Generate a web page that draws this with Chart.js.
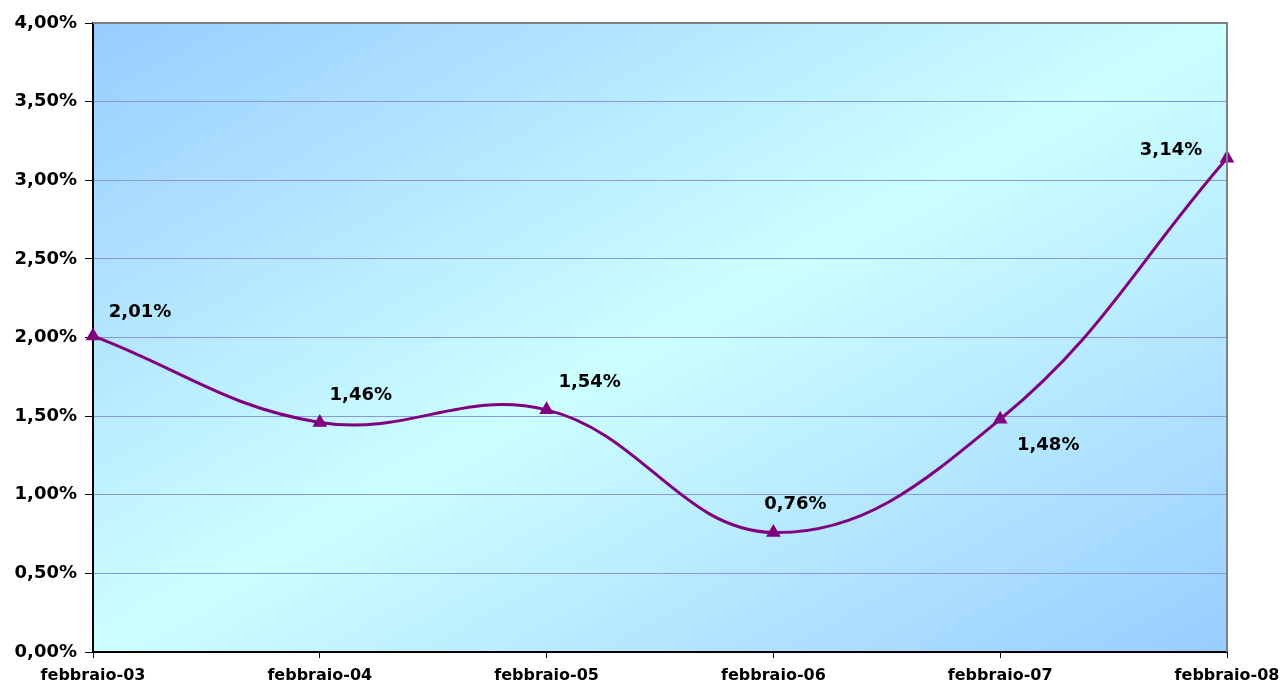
<!DOCTYPE html>
<html>
<head>
<meta charset="utf-8">
<script src="https://cdn.jsdelivr.net/npm/chart.js@4/dist/chart.umd.min.js"></script>
<style>
  html,body{margin:0;padding:0;background:#fff;}
  #wrap{width:1286px;height:690px;}
</style>
</head>
<body>
<div id="wrap"><canvas id="chart"></canvas></div>
<script>
//----- data -----//
const labels = ['febbraio-03','febbraio-04','febbraio-05','febbraio-06','febbraio-07','febbraio-08'];
const values = [2.01, 1.46, 1.54, 0.76, 1.48, 3.14];

//label offsets from each point (dx, dy) in px
const labelOffsets = [[47,-24],[41,-27],[43,-28],[22,-28],[48,26],[-56,-8]];

const FONT = 'DejaVu Sans, Verdana, sans-serif';

function fmt(v){
  return v.toFixed(2).replace('.',',')+'%';
}

//background gradient (diagonal, excel style) + top/right border
const plotBg = {
  id:'plotBg',
  beforeDraw(chart){
    const {ctx, chartArea:a} = chart;
    const w = a.right-a.left, h = a.bottom-a.top;
    const cx = a.left+w/2, cy = a.top+h/2;
    const k = w*h/(w*w+h*h);
    const g = ctx.createLinearGradient(cx-h*k, cy-w*k, cx+h*k, cy+w*k);
    g.addColorStop(0, '#99ccff');
    g.addColorStop(0.5, '#ccffff');
    g.addColorStop(1, '#99ccff');
    ctx.save();
    ctx.fillStyle = g;
    ctx.fillRect(a.left, a.top, w, h);
    ctx.restore();
  },
  afterDatasetsDraw(chart){
    const {ctx, chartArea:a} = chart;
    ctx.save();
    ctx.strokeStyle = '#808080';
    ctx.lineWidth = 2;
    ctx.beginPath();
    ctx.moveTo(a.left, a.top);
    ctx.lineTo(a.right, a.top);
    ctx.lineTo(a.right, a.bottom);
    ctx.stroke();
    ctx.restore();
  }
};

//value labels
const valueLabels = {
  id:'valueLabels',
  afterDatasetsDraw(chart){
    const ctx = chart.ctx;
    const meta = chart.getDatasetMeta(0);
    ctx.save();
    ctx.font = 'bold 18px '+FONT;
    ctx.fillStyle = '#000';
    ctx.textAlign = 'center';
    ctx.textBaseline = 'middle';
    meta.data.forEach(function(pt, i){
      const off = labelOffsets[i];
      ctx.fillText(fmt(values[i]), pt.x+off[0], pt.y+off[1]);
    });
    ctx.restore();
  }
};

new Chart(document.getElementById('chart'), {
  type:'line',
  data:{
    labels: labels,
    datasets:[{
      data: values,
      borderColor:'#800080',
      backgroundColor:'#800080',
      borderWidth:3,
      tension:0.4,
      pointStyle:'triangle',
      pointRadius:5.5,
      pointHoverRadius:5.5,
      fill:false
    }]
  },
  options:{
    responsive:true,
    maintainAspectRatio:false,
    animation:false,
    layout:{padding:{top:23, right:59}},
    plugins:{legend:{display:false}, tooltip:{enabled:false}},
    scales:{
      x:{
        offset:false,
        grid:{drawOnChartArea:false, tickLength:6, tickColor:'#000'},
        border:{color:'#000', width:2},
        ticks:{color:'#000', font:{family:FONT, size:16, weight:'bold'}, maxRotation:0, padding:8},
        afterFit(s){ s.height = 38; s.paddingRight = 0; s.paddingLeft = 0; }
      },
      y:{
        min:0, max:4,
        grid:{color:'#8898d8', tickLength:8, tickColor:'#000', lineWidth:1},
        border:{color:'#000', width:2},
        ticks:{stepSize:0.5, color:'#000', font:{family:FONT, size:18, weight:'bold'}, padding:8,
          callback:function(v){ return fmt(v); }},
        afterFit(s){ s.width = 93; }
      }
    }
  },
  plugins:[plotBg, valueLabels]
});
</script>
</body>
</html>
